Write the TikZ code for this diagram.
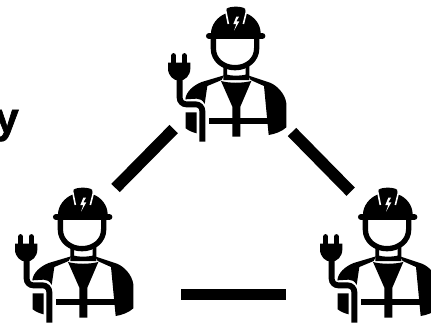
\documentclass[tikz,border=0pt]{standalone}
\usepackage{fontspec}
\setmainfont[BoldFeatures={FakeBold=1.6}]{Liberation Sans}
\tikzset{
  link/.style={line width=8.8pt},
  strap/.style={line width=4pt},
  cable/.style={line width=4.4pt,rounded corners=5pt},
  slit/.style={line width=1.2pt,white},
}
\newcommand{\worker}[2]{
  \begin{scope}[shift={(#1,#2)},x=.25pt,y=-.25pt]
    % helmet
    \fill (153,100) .. controls (153,75) and (172,50) .. (198,40) -- (200,26) .. controls (210,18) and (245,18) .. (255,26) -- (258,40) .. controls (285,50) and (302,75) .. (302,100) -- cycle;
    \draw[slit] (197,32) -- (205,72);
    \draw[slit] (260,32) -- (250,72);
    \fill[white] (229,50) -- (220,72) -- (229,72) -- (222,92) -- (238,64) -- (229,64) -- (237,50) -- cycle;
    \draw[line width=4.6pt,line cap=round] (147,108) -- (307,108);
    % face
    \draw[strap] (160,112) -- (160,145) .. controls (160,180) and (190,203) .. (225,203) .. controls (260,203) and (290,180) .. (290,145) -- (290,112);
    % neck and vest
    \fill (190,190) -- (190,240) -- (268,240) -- (268,190) -- (257,198) -- (257,224) .. controls (240,228) and (215,228) .. (201,224) -- (201,198) -- cycle;
    \fill (183,243) .. controls (210,250) and (245,250) .. (274,243) -- (241,320) -- (241,410) -- (217,410) -- (217,320) -- cycle;
    \fill (148,354) rectangle (325,373);
    % shoulders
    \fill (192,226) -- (185,240) -- (142,258) -- (134,312) .. controls (128,300) and (120,296) .. (110,296) -- (76,298) .. controls (78,275) and (100,256) .. (125,246) -- cycle;
    \fill (264,226) -- (272,240) -- (312,258) -- (326,405) .. controls (345,402) and (365,395) .. (379,382) -- (379,310) .. controls (375,280) and (350,256) .. (330,248) -- cycle;
    \fill (77,337) -- (110,337) -- (110,400) .. controls (98,397) and (86,392) .. (77,385) -- cycle;
    % plug
    \draw[cable] (59,235) -- (59,313) -- (127,313) -- (127,425);
    \fill (24,188) -- (91,188) -- (91,205) .. controls (91,227) and (75,242) .. (58,242) .. controls (40,242) and (24,227) .. (24,205) -- cycle;
    \draw[line width=3.8pt,line cap=round] (41,192) -- (41,167);
    \draw[line width=3.8pt,line cap=round] (73,192) -- (73,167);
  \end{scope}
}
\begin{document}
\begin{tikzpicture}[x=.75pt,y=-.75pt]
  \clip (0,0) rectangle (431,326);
  \node[inner sep=0pt,anchor=base east,font=\bfseries\fontsize{32}{32}\selectfont] (word) at (19,132.5) {y};
  \worker{160}{0}
  \worker{7}{181}
  \worker{312}{181}
  \coordinate (topleft) at (173.7,129);
  \coordinate (topright) at (292,132);
  \coordinate (leftup) at (115.5,188);
  \coordinate (rightup) at (350.7,191.7);
  \coordinate (leftend) at (181,294.5);
  \coordinate (rightend) at (285.7,294.5);
  \draw[link] (leftup) -- (topleft);
  \draw[link] (topright) -- (rightup);
  \draw[link] (leftend) -- (rightend);
\end{tikzpicture}
\end{document}
